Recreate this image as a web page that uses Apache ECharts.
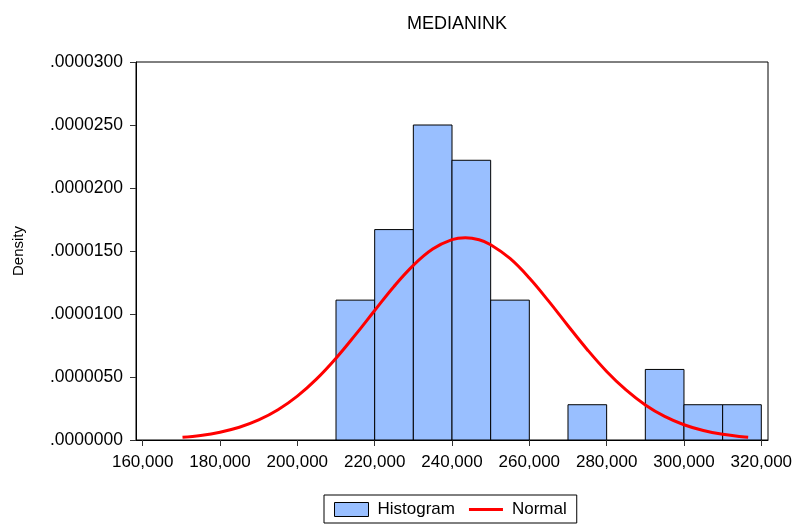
<!DOCTYPE html>
<html>
<head>
<meta charset="utf-8">
<script src="https://cdn.jsdelivr.net/npm/echarts@6/dist/echarts.min.js"></script>
<style>html,body{margin:0;padding:0;background:#fff;}#c{width:794px;height:524px;}</style>
</head>
<body>
<div id="c"></div>
<script>
// ---- data ----
var binStart = [210000, 220000, 230000, 240000, 250000, 260000, 270000, 280000, 290000, 300000, 310000];
var binEnd   = [220000, 230000, 240000, 250000, 260000, 270000, 280000, 290000, 300000, 310000, 320000];
var density  = [0.0000111, 0.0000167, 0.0000250, 0.0000222, 0.0000111, 0, 0.0000028, 0, 0.0000056, 0.0000028, 0.0000028];
var curveX = [170300, 175000, 180000, 185000, 190000, 195000, 200000, 205000, 210000, 215000, 220000, 225000, 230000, 235000, 240000, 243450, 247000, 250000, 255000, 260000, 265000, 270000, 275000, 280000, 285000, 290000, 295000, 300000, 305000, 310000, 315000, 316600];
var curveY = [0.00000021, 0.00000036, 0.00000062, 0.00000101, 0.00000159, 0.00000240, 0.00000348, 0.00000485, 0.00000649, 0.00000834, 0.00001028, 0.00001219, 0.00001386, 0.00001515, 0.00001590, 0.00001605, 0.00001589, 0.00001550, 0.00001441, 0.00001286, 0.00001102, 0.00000907, 0.00000717, 0.00000544, 0.00000397, 0.00000278, 0.00000187, 0.00000121, 0.00000075, 0.00000045, 0.00000026, 0.00000021];
var xTicks = [160000, 180000, 200000, 220000, 240000, 260000, 280000, 300000, 320000];
var title = 'MEDIANINK';

var FONT = 'Liberation Sans, Arial, sans-serif';
var histData = binStart.map(function (s, i) { return [s, binEnd[i], density[i]]; });
var lineData = curveX.map(function (x, i) { return [x, curveY[i]]; });

var chart = echarts.init(document.getElementById('c'), null, {renderer: 'canvas'});
chart.setOption({
  animation: false,
  backgroundColor: '#ffffff',
  title: {
    text: title, left: 452, top: 10, textAlign: 'center',
    textStyle: {fontFamily: FONT, fontSize: 18, fontWeight: 'normal', color: '#000'}
  },
  grid: {left: 136, right: 26, top: 62, bottom: 84, containLabel: false, outerBoundsMode: 'none',
         show: true, borderColor: '#000', borderWidth: 1, backgroundColor: '#fff'},
  legend: {
    left: 324, top: 495,
    borderColor: '#000', borderWidth: 1, padding: [6, 10, 5, 10],
    itemWidth: 34, itemHeight: 14, itemGap: 14,
    textStyle: {fontFamily: FONT, fontSize: 17, color: '#000', padding: [0, 0, 0, 4]},
    data: [
      {name: 'Histogram', icon: 'rect', itemStyle: {color: '#99BFFF', borderColor: '#000', borderWidth: 1}},
      {name: 'Normal', icon: 'path://M0,0 L36,0 L36,3 L0,3 Z', itemStyle: {color: '#FF0000', borderWidth: 0}}
    ]
  },
  xAxis: {
    type: 'value', min: 158270, max: 321730,
    axisLine: {show: true, onZero: false, lineStyle: {color: '#000', width: 1}},
    axisTick: {show: true, length: 6, customValues: xTicks, lineStyle: {color: '#333'}},
    axisLabel: {
      customValues: xTicks, margin: 14, color: '#000', fontFamily: FONT, fontSize: 17,
      formatter: function (v) { return String(Math.round(v)).replace(/\B(?=(\d{3})+(?!\d))/g, ','); }
    },
    splitLine: {show: false}
  },
  yAxis: {
    type: 'value', min: 0, max: 0.00003, interval: 0.000005,
    name: 'Density', nameLocation: 'middle', nameGap: 110,
    nameTextStyle: {fontFamily: FONT, fontSize: 15, color: '#000'},
    axisLine: {show: true, lineStyle: {color: '#000', width: 1}},
    axisTick: {show: true, length: 6, lineStyle: {color: '#333'}},
    axisLabel: {
      margin: 13, color: '#000', fontFamily: FONT, fontSize: 17.5,
      formatter: function (v) { return v.toFixed(7).replace(/^0/, ''); }
    },
    splitLine: {show: false}
  },
  series: [
    {
      name: 'Histogram', type: 'custom',
      data: histData,
      encode: {x: [0, 1], y: 2},
      itemStyle: {color: '#99BFFF'},
      renderItem: function (params, api) {
        var h = api.value(2);
        if (!h) return null;
        var p0 = api.coord([api.value(0), 0]);
        var p1 = api.coord([api.value(1), h]);
        return {
          type: 'rect',
          shape: {x: p0[0], y: p1[1], width: p1[0] - p0[0], height: p0[1] - p1[1]},
          style: {fill: '#99BFFF', stroke: '#000', lineWidth: 1}
        };
      },
      z: 2
    },
    {
      name: 'Normal', type: 'line', data: lineData, smooth: 0.4,
      symbol: 'none', lineStyle: {color: '#FF0000', width: 3}, itemStyle: {color: '#FF0000'},
      z: 3
    }
  ]
});
</script>
</body>
</html>
